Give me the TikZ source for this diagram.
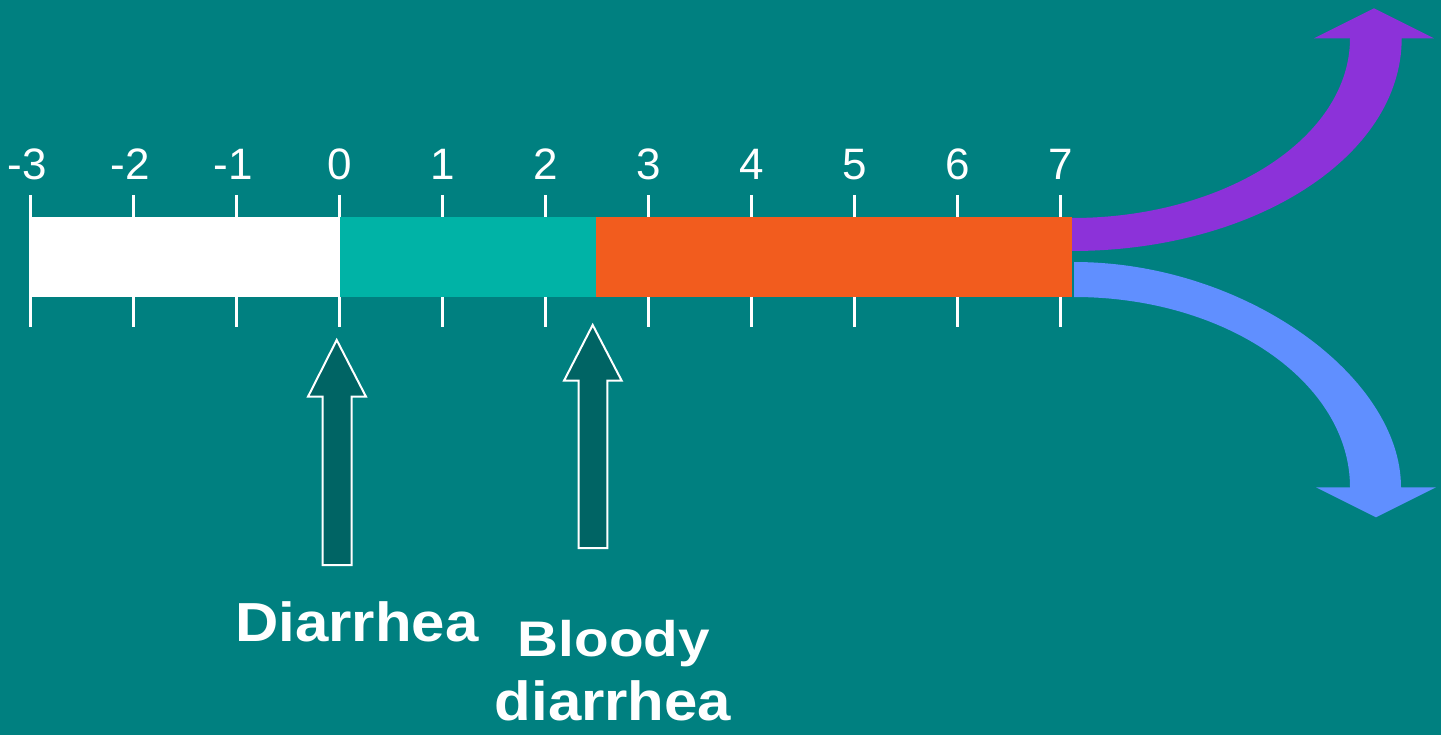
\documentclass[tikz,border=0pt]{standalone}
\usepackage{fontspec}
\setmainfont{Liberation Sans}
\definecolor{bg}{HTML}{008080}
\definecolor{barteal}{HTML}{00B3A6}
\definecolor{barorange}{HTML}{F25C1E}
\definecolor{arrpurple}{HTML}{8C32D9}
\definecolor{arrblue}{HTML}{608FFF}
\definecolor{arrdark}{HTML}{006464}
\tikzset{
  tickline/.style={white, line width=2.5pt},
  numlabel/.style={text=white, anchor=base, inner sep=0pt, font=\fontsize{44}{50}\selectfont},
  caption/.style={text=white, anchor=base, inner sep=0pt, xscale=1.09, font=\bfseries\fontsize{55}{64}\selectfont},
  uparrow/.style={fill=arrdark, draw=white, line width=2pt, line join=miter},
}
\begin{document}
\begin{tikzpicture}[x=1pt,y=-1pt]
\fill[bg] (0,0) rectangle (1441,735);
\useasboundingbox (0,0) rectangle (1441,735);

% ticks
\foreach \i in {0,...,10}{
  \draw[tickline] ({30.5+103*\i},195) -- ({30.5+103*\i},327);
}
% tick labels
\foreach \v [count=\i from 0] in {-3,-2,-1}{
  \node[numlabel] (lbl\i) at ({27+103*\i},179.5) {\v};
}
\foreach \v [count=\i from 3] in {0,1,2,3,4,5,6,7}{
  \node[numlabel] (lbl\i) at ({30.5+103*\i},179.5) {\v};
}

% bars
\fill[white] (30.5,217) rectangle (340,297);
\fill[barteal] (340,217) rectangle (596,297);
\fill[barorange] (596,217) rectangle (1072,297);

% purple curved arrow (up)
\fill[arrpurple] (1072,218) .. controls (1225.5,218) and (1350,137.4) .. (1350,38.3)
  -- (1314,38.3) -- (1374,8.3) -- (1434,38.3) -- (1401.7,38.3)
  .. controls (1401.7,156.5) and (1254.3,251) .. (1072,251) -- cycle;

% blue curved arrow (down)
\fill[arrblue] (1074,262) .. controls (1244,262) and (1401,376) .. (1401,487.3)
  -- (1436,487.3) -- (1376,517.3) -- (1316,487.3) -- (1350,487.3)
  .. controls (1350,382.4) and (1226.4,297) .. (1074,297) -- cycle;

% up block arrows
\draw[uparrow] (322.7,565) -- (322.7,396.7) -- (308,396.7) -- (336.7,340)
  -- (366,396.7) -- (351.7,396.7) -- (351.7,565) -- cycle;
\draw[uparrow] (578.7,548) -- (578.7,380.7) -- (564,380.7) -- (592.7,325)
  -- (621.7,380.7) -- (607.3,380.7) -- (607.3,548) -- cycle;

% captions
\node[caption] (diarrhea) at (357,641) {Diarrhea};
\node[caption, xscale=1.04, font=\bfseries\fontsize{50}{60}\selectfont] (bloody) at (614,656.5) {Bloody};
\node[caption] (bloodydiarrhea) at (613,720.5) {diarrhea};
\end{tikzpicture}
\end{document}
